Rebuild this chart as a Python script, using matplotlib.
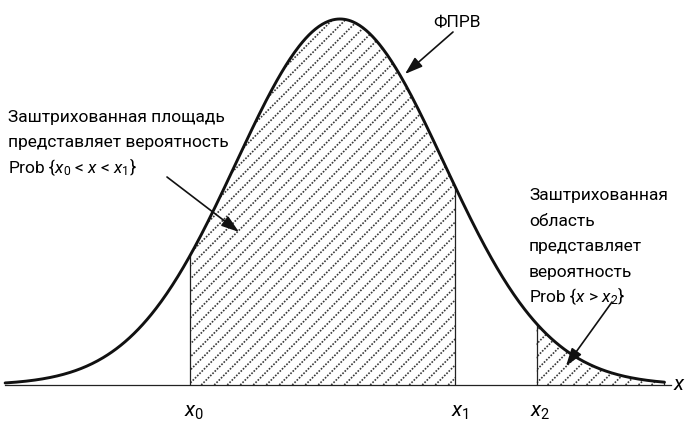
import numpy as np
import matplotlib.pyplot as plt
from matplotlib.patches import Polygon

plt.rcParams['font.family'] = ['Roboto', 'DejaVu Sans']
plt.rcParams['mathtext.fontset'] = 'custom'
plt.rcParams['mathtext.rm'] = 'Roboto'
plt.rcParams['mathtext.it'] = 'Roboto:italic'

# normal pdf, standardized units
mu = 0.0
sigma = 1.0
x_start, x_end = -3.22, 3.12
x0, x1, x2 = -1.44, 1.11, 1.89
tick_labels = ["$x_0$", "$x_1$", "$x_2$"]
curve_label = "ФПРВ"
left_note = ["Заштрихованная площадь", "представляет вероятность",
             "Prob {$x_0$ < $x$ < $x_1$}"]
right_note = ["Заштрихованная", "область", "представляет", "вероятность",
              "Prob {$x$ > $x_2$}"]

W, H = 686, 423
fig = plt.figure(figsize=(W / 100, H / 100), dpi=100)
ax = fig.add_axes([0, 0, 1, 1])
ax.axis('off')

peak = 1 / (sigma * np.sqrt(2 * np.pi))
sx = 104.0          # pixels per unit x
sy = 366.0 / peak   # pixels per unit y
ax.set_xlim(-340 / sx, (W - 340) / sx)
ax.set_ylim(-38 / sy, peak + 19 / sy)


def pdf(x):
    return np.exp(-0.5 * ((x - mu) / sigma) ** 2) / (sigma * np.sqrt(2 * np.pi))


def frac(px, py):
    # pixel position (top-left origin) -> axes fraction
    return px / W, 1 - py / H


xs = np.linspace(x_start, x_end, 600)
ax.plot(xs, pdf(xs), color='#111111', lw=2.1, solid_capstyle='round', zorder=5)
ax.plot([-335 / sx, 671 / sx - 340 / sx], [0, 0], color='#222222', lw=0.9)


def hatch_region(a, b):
    seg = np.linspace(a, b, 200)
    verts = [(a, 0)] + list(zip(seg, pdf(seg))) + [(b, 0)]
    poly = Polygon(verts, closed=True, fc='none', ec='none')
    ax.add_patch(poly)
    k = sx / sy  # 45 degrees on screen
    step = 13 / sx
    for c in np.arange(a - peak / k - step, b + step, step):
        ln, = ax.plot([c, c + peak / k * 1.2], [0, peak * 1.2], color='#383838',
                      lw=1.2, ls=(0, (1.0, 0.9)))
        ln.set_clip_path(poly)
    ax.vlines([a], 0, pdf(a), color='#222222', lw=0.9)
    ax.vlines([b], 0, pdf(b), color='#222222', lw=0.9)


hatch_region(x0, x1)
hatch_region(x2, x_end)

fs = 12.5
for xv, lab in zip([x0, x1, x2], tick_labels):
    ax.text(xv + 4 / sx, -32 / sy, lab, ha='center', va='baseline', fontsize=15)
ax.text(*frac(673, 390), "$x$", transform=ax.transAxes, fontsize=15, va='baseline')

ax.text(*frac(433, 27), curve_label, transform=ax.transAxes, fontsize=fs, va='baseline')
for i, line in enumerate(left_note):
    ax.text(*frac(8, 122 + 25.5 * i), line, transform=ax.transAxes, fontsize=fs,
            va='baseline')
for i, line in enumerate(right_note):
    ax.text(*frac(529, 200 + 25.5 * i), line, transform=ax.transAxes, fontsize=fs,
            va='baseline')

arrow = dict(arrowstyle='-|>,head_length=0.9,head_width=0.3', color='#111111',
             lw=1.2, mutation_scale=12, shrinkA=0, shrinkB=0)
for start, tip in [((453, 32), (405, 74)), ((167, 177), (239, 232)),
                   ((612, 302), (566, 366))]:
    ax.annotate('', xy=frac(*tip), xytext=frac(*start), xycoords='axes fraction',
                textcoords='axes fraction', arrowprops=arrow, zorder=6)

fig.savefig('out.png', dpi=100)
